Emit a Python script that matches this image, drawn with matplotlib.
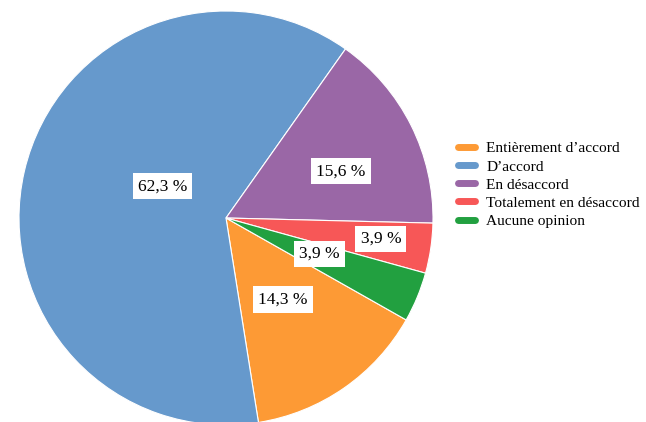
import matplotlib
matplotlib.use("Agg")
import matplotlib.pyplot as plt
from matplotlib.lines import Line2D
import numpy as np

categories = ["Entièrement d\u2019accord", "D\u2019accord", "En désaccord",
              "Totalement en désaccord", "Aucune opinion"]
values = [14.3, 62.3, 15.6, 3.9, 3.9]
labels = ["14,3 %", "62,3 %", "15,6 %", "3,9 %", "3,9 %"]
colors = ["#fd9a35", "#6699cc", "#9a67a6", "#f75757", "#22a040"]

# layout: label positions as (angle offset deg from wedge middle, radius fraction)
label_pos = [(0.1, 0.48), (-13.5, 0.343), (-4.5, 0.60), (0.8, 0.755), (1.4, 0.484)]

plt.rcParams['font.family'] = ['Liberation Serif', 'DejaVu Serif']

fig = plt.figure(figsize=(6.46, 4.22), dpi=100)
ax = fig.add_axes([19/646, -3/422, 414/646, 414/422])
wedges, _ = ax.pie(values, colors=colors, startangle=-29.5, counterclock=False,
                   radius=1, wedgeprops=dict(edgecolor="white", linewidth=0.8))
ax.set_xlim(-1, 1)
ax.set_ylim(-1, 1)

for w, lab, (dang, r) in zip(wedges, labels, label_pos):
    mid = np.deg2rad((w.theta1 + w.theta2) / 2 + dang)
    ax.text(r * np.cos(mid), r * np.sin(mid), lab, ha="center", va="center",
            fontsize=12.5,
            bbox=dict(boxstyle="square,pad=0.3", fc="white", ec="none"))

handles = [Line2D([0], [0], color=c, lw=5, solid_capstyle="round") for c in colors]
fig.legend(handles, categories, loc="upper left", bbox_to_anchor=(450/646, 1 - 134/422),
           frameon=False, fontsize=11.1, handlelength=1.1, handletextpad=0.75,
           labelspacing=0.28, borderpad=0)
fig.savefig("out.png", dpi=100)
